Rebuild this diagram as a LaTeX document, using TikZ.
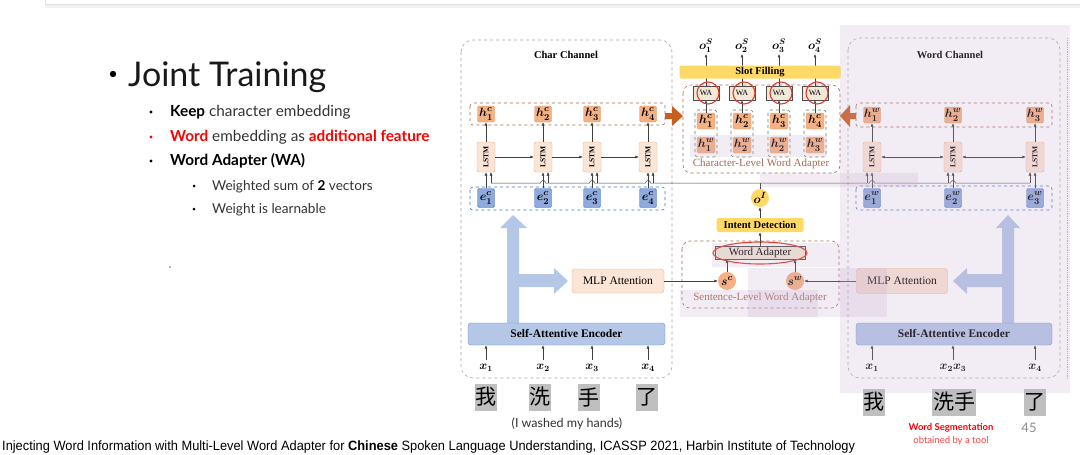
\documentclass[tikz,border=0pt]{standalone}
\usepackage{fontspec}
\setmainfont{Liberation Serif}
\newfontfamily\slidefont{Lato}
\newfontfamily\footfont{Liberation Sans}
\newfontfamily\cjk{Noto Sans CJK SC}
\usetikzlibrary{arrows.meta,positioning}

\definecolor{hfill}{RGB}{244,177,131}
\definecolor{hdraw}{RGB}{232,150,100}
\definecolor{lfill}{RGB}{251,229,214}
\definecolor{efill}{RGB}{143,170,220}
\definecolor{edraw}{RGB}{68,114,196}
\definecolor{encfill}{RGB}{180,199,231}
\definecolor{ylw}{RGB}{255,217,102}
\definecolor{brn}{RGB}{165,105,80}
\definecolor{pairgreen}{RGB}{100,130,90}
\definecolor{bigorange}{RGB}{200,95,30}
\definecolor{wafill}{RGB}{243,231,216}
\definecolor{redc}{RGB}{225,60,40}
\definecolor{mauve}{RGB}{200,170,205}
\definecolor{slidered}{RGB}{255,0,0}

\tikzset{
  chanbox/.style={draw=gray!70, dashed, rounded corners=12pt, line width=0.6pt},
  rowbox/.style={dashed, rounded corners=3pt, line width=0.6pt},
  pairbox/.style={draw=pairgreen, dashed, rounded corners=3pt, line width=0.6pt},
  hbox/.style={fill=hfill, draw=hdraw, rounded corners=1.5pt, minimum width=17,
    minimum height=16, inner sep=0pt, font=\boldmath\fontsize{12.5}{12.5}\selectfont},
  ebox/.style={hbox, fill=efill, draw=edraw, minimum height=19},
  lstmbox/.style={fill=lfill, draw=hfill, rounded corners=2pt, minimum width=18,
    minimum height=30, inner sep=0pt, font=\fontsize{7.5}{7.5}\selectfont\bfseries},
  ybar/.style={fill=ylw, rounded corners=1.5pt, inner sep=0pt, font=\fontsize{10.5}{10.5}\selectfont\bfseries},
  wabox/.style={fill=wafill, draw=black!70, minimum width=26, minimum height=14,
    inner sep=0pt, font=\fontsize{8}{8}\selectfont},
  circ/.style={circle, minimum size=18, inner sep=0pt, font=\boldmath\fontsize{13}{13}\selectfont},
  mlpbox/.style={fill=lfill, draw=hfill, rounded corners=3pt, minimum width=92,
    minimum height=24, inner sep=0pt, font=\fontsize{11.5}{11.5}\selectfont},
  encbox/.style={fill=encfill, draw=edraw!80, rounded corners=3pt, minimum width=197,
    minimum height=22, inner sep=0pt, font=\fontsize{11.5}{11.5}\selectfont\bfseries},
  xlab/.style={inner sep=0pt, font=\boldmath\fontsize{12}{12}\selectfont},
  arr/.style={-{Latex[length=3.5pt,width=3pt]}, draw=black!75, line width=0.5pt},
  darr/.style={{Latex[length=3.5pt,width=3pt]}-{Latex[length=3.5pt,width=3pt]}, draw=black!75, line width=0.5pt},
  wire/.style={draw=black!75, line width=0.5pt},
  hanzi/.style={fill=black!25, inner sep=0pt, minimum width=22, minimum height=27,
    font=\cjk\fontsize{21}{21}\selectfont},
  redring/.style={draw=redc, line width=1.1pt},
  veil/.style={fill=mauve, fill opacity=0.22},
  sub/.style={anchor=base west, inner sep=0pt, text=black!80, font=\slidefont\fontsize{15.3}{15.3}\selectfont},
  subsub/.style={sub, font=\slidefont\fontsize{13.6}{13.6}\selectfont}
}

\begin{document}
\begin{tikzpicture}[x=1pt,y=-1pt]
    \useasboundingbox (0,0) rectangle (1080,455);
    \fill[white] (0,0) rectangle (1080,455);
    \fill[black!5] (45,4) rectangle (1080,8);
    \draw[black!12] (45,0) -- (45,4) -- (1080,4);

    % slide text
    \fill (113,74) circle (3.2);
    \node[anchor=base west, inner sep=0pt, text=black!90, font=\slidefont\fontsize{34}{34}\selectfont] (title) at (128,86) {Joint Training};
    \fill (151,112) circle (1.6);
    \fill[slidered] (151,137) circle (1.6);
    \fill (151,161) circle (1.6);
    \fill (194,186) circle (1.5);
    \fill (194,209) circle (1.5);
    \node[sub] (b1) at (170,116) {\textbf{\color{black}Keep} character embedding};
    \node[sub] (b2) at (170,141) {\textbf{\color{slidered}Word} embedding as \textbf{\color{slidered}additional feature}};
    \node[sub, text=black] (b3) at (170,165) {\textbf{Word Adapter (WA)}};
    \node[subsub] (b4) at (212,190) {Weighted sum of \textbf{\color{black}2} vectors};
    \node[subsub] (b5) at (212,213) {Weight is learnable};
    \fill[edraw] (170,267) circle (0.8);

    % channels
    \draw[chanbox] (461,40) rectangle (672,378);
    \draw[chanbox] (848,38) rectangle (1060,378);
    \draw[gray!60, densely dotted, line width=0.8pt] (1067,38) -- (1067,380);
    \node[font=\fontsize{10.5}{10.5}\selectfont\bfseries] (charT) at (566,55) {Char Channel};
    \node[font=\fontsize{10.5}{10.5}\selectfont\bfseries] (wordT) at (950,55) {Word Channel};

    \draw[rowbox, draw=brn] (470,103) rectangle (665,125);
    \draw[rowbox, draw=edraw] (470,187) rectangle (665,210);
    \draw[rowbox, draw=brn] (856,103) rectangle (1052,127);
    \draw[rowbox, draw=edraw] (856,186) rectangle (1052,210);

    \fill[bigorange] (665,113) -- (672,113) -- (672,106) -- (683,116) -- (672,126) -- (672,119) -- (665,119) -- cycle;
    \fill[bigorange] (856,113) -- (850,113) -- (850,105) -- (840,116) -- (850,127) -- (850,119) -- (856,119) -- cycle;

    % big T arrows
    \fill[encfill] (507,323) -- (507,228) -- (500,228) -- (513,215) -- (527,228) -- (519,228) -- (519,274)
        -- (554,274) -- (554,268) -- (568,281) -- (554,294) -- (554,287) -- (519,287) -- (519,323) -- cycle;
    \fill[encfill] (1014,323) -- (1014,228) -- (1020,228) -- (1008,215) -- (996,228) -- (1002,228) -- (1002,274)
        -- (967,274) -- (967,268) -- (953,281) -- (967,294) -- (967,287) -- (1002,287) -- (1002,323) -- cycle;

    \node[encbox] (encL) at (566.5,334) {Self-Attentive Encoder};
    \node[encbox, minimum width=196] (encR) at (954,334) {Self-Attentive Encoder};

    % shared intent line
    \coordinate (busL) at (491,183);
    \coordinate (busR) at (1030,183);
    \coordinate (bus) at (760,183);
    \draw[wire] (busL) foreach \c in {543,592,648,872,953}{ -- (\c-2.5,183) arc[start angle=180, end angle=360, radius=2.5] } -- (busR);

    % char channel
    \foreach \x [count=\i] in {486,543,592,648}{
        \node[hbox] (hc\i) at (\x,114) {$h^c_{\i}$};
        \node[lstmbox] (lc\i) at (\x,157) {\rotatebox{90}{LSTM}};
        \node[ebox] (ec\i) at (\x,198) {$e^c_{\i}$};
        \draw[arr] (lc\i) -- (hc\i);
        \draw[arr] (ec\i) -- (lc\i.south -| ec\i);
        \draw[arr] (\x+5,183) -- (\x+5,172);
        \node[xlab] (xc\i) at (\x,368) {$x_{\i}$};
        \draw[arr] (xc\i.north) ++(0,-4) -- (xc\i |- encL.south);
    }
    \foreach \i/\j in {1/2,2/3,3/4}
        \draw[arr] (lc\i) -- (lc\j);

    % word channel
    \foreach \x/\lab [count=\i] in {872/x_1,953/x_2x_3,1035/x_4}{
        \node[hbox] (hw\i) at (\x,115) {$h^w_{\i}$};
        \node[lstmbox] (lw\i) at (\x,157) {\rotatebox{90}{LSTM}};
        \node[ebox] (ew\i) at (\x,198) {$e^w_{\i}$};
        \draw[arr] (lw\i) -- (hw\i);
        \draw[arr] (ew\i) -- (lw\i.south -| ew\i);
        \draw[arr] (\x-5,183) -- (\x-5,172);
        \node[xlab] (xw\i) at (\x,368) {$\lab$};
        \draw[arr] (xw\i.north) ++(0,-4) -- (xw\i |- encR.south);
    }
    \foreach \i/\j in {1/2,2/3}
        \draw[darr] (lw\i) -- (lw\j);

    % character-level word adapter
    \draw[rowbox, draw=brn, rounded corners=8pt] (683,85) rectangle (840,173);
    \node[text=brn, font=\fontsize{11}{11}\selectfont] (cwaT) at (761,164) {Character-Level Word Adapter};
    \foreach \x/\a/\b [count=\i] in {706/1/1,742/2/2,779/3/2,815/4/3}{
        \draw[pairbox] (\x-11,110) rectangle (\x+11,157);
        \node[hbox, minimum width=18] (pc\i) at (\x,121) {$h^c_{\a}$};
        \node[hbox, minimum width=18] (pw\i) at (\x,145) {$h^w_{\b}$};
        \node[wabox] (wa\i) at (\x,93) {WA};
        \node[inner sep=0pt, font=\boldmath\fontsize{12}{12}\selectfont] (os\i) at (\x,46) {$o^S_{\i}$};
        \draw[arr] (pc\i) -- (wa\i);
        \draw[arr] (wa\i) -- ([yshift=-1pt]os\i.south);
    }
    \node[ybar, minimum width=161, minimum height=13] (slot) at (760,72) {Slot Filling};
    \foreach \x in {706,742,779,815}
        \draw[redring] (\x+2,93) circle[radius=11pt];

    % sentence-level word adapter
    \draw[rowbox, draw=brn, rounded corners=8pt] (682,241) rectangle (839,308);
    \node[text=brn, font=\fontsize{11}{11}\selectfont] (swaT) at (760,298) {Sentence-Level Word Adapter};
    \node[circ, fill=ylw] (oI) at (760,198) {$o^I$};
    \node[ybar, minimum width=87, minimum height=14] (intent) at (760,225) {Intent Detection};
    \node[wabox, minimum width=90, minimum height=13, font=\fontsize{11}{11}\selectfont] (wadp) at (760,253) {Word Adapter};
    \draw[redring] (wadp.center) ellipse [x radius=47pt, y radius=11pt];
    \node[circ, fill=hfill] (sc) at (727,281) {$s^c$};
    \node[circ, fill=hfill] (sw) at (795,281) {$s^w$};
    \node[mlpbox] (mlpL) at (618,281) {MLP Attention};
    \node[mlpbox, minimum width=91, minimum height=25] (mlpR) at (902,281) {MLP Attention};
    \draw[arr] (sc) -- (sc |- wadp.south);
    \draw[arr] (sw) -- (sw |- wadp.south);
    \draw[arr] (wadp) -- (intent);
    \draw[arr] (intent) -- (oI);
    \draw[wire] (oI) -- (bus);
    \draw[arr] (mlpL) -- (sc);
    \draw[arr] (mlpR) -- (sw);

    % inputs
    \foreach \x/\ch [count=\i] in {486/我,540/洗,589/手,647/了}
        \node[hanzi] (zl\i) at (\x,397) {\ch};
    \node[hanzi] (zr1) at (874,402) {我};
    \node[hanzi, minimum width=44] (zr2) at (954,402) {洗手};
    \node[hanzi] (zr3) at (1035,402) {了};
    \node[anchor=base, inner sep=0pt, text=black!80, font=\slidefont\fontsize{12.5}{12.5}\selectfont] (trans) at (567,427) {(I washed my hands)};
    \node[inner sep=0pt, text=slidered, font=\slidefont\fontsize{9.5}{9.5}\selectfont\bfseries] (seg) at (951,428) {Word Segmentation};
    \node[inner sep=0pt, text=slidered!75, font=\slidefont\fontsize{9.5}{9.5}\selectfont] (tool) at (951,441) {obtained by a tool};
    \node[inner sep=0pt, text=black!45, font=\slidefont\fontsize{13}{13}\selectfont] (page) at (1029,428) {45};
    \node[anchor=base west, inner sep=0pt, font=\footfont\fontsize{13.5}{13.5}\selectfont] (foot) at (2,450)
        {\scalebox{0.95}[1]{Injecting Word Information with Multi-Level Word Adapter for \textbf{Chinese} Spoken Language Understanding, ICASSP 2021, Harbin Institute of Technology}};

    % highlight overlays
    \fill[veil] (840,25) rectangle (1070,393);
    \fill[veil] (760,173) rectangle (918,187);
    \fill[veil] (690,135) rectangle (827,157);
    \fill[veil] (712,243) rectangle (840,267);
    \fill[veil] (748,268) rectangle (887,317);
    \fill[veil] (680,290) rectangle (818,317);
\end{tikzpicture}
\end{document}
